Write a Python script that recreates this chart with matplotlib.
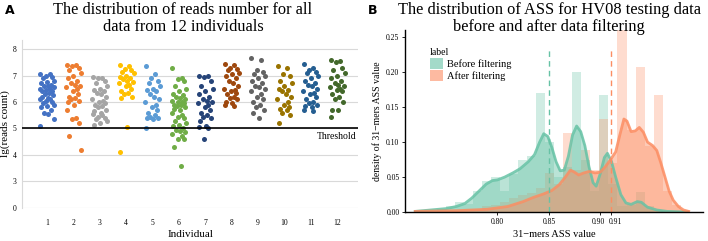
import matplotlib
matplotlib.use('Agg')
import matplotlib.pyplot as plt
from matplotlib.patches import Patch
from matplotlib.transforms import ScaledTranslation
import numpy as np

serif = ['Liberation Serif', 'DejaVu Serif']
plt.rcParams['font.family'] = serif

# ---- panel A data: lg(reads count) per individual ----
individuals = [1, 2, 3, 4, 5, 6, 7, 8, 9, 10, 11, 12]
reads = [
    [7.05, 7.05, 7.0, 6.95, 6.9, 6.8, 6.75, 6.7, 6.65, 6.6, 6.6, 6.55, 6.5, 6.5, 6.45, 6.4, 6.4, 6.35,
     6.3, 6.25, 6.2, 6.15, 6.1, 6.1, 6.05, 6.0, 5.95, 5.9, 5.85, 5.8, 5.7, 5.6, 5.55, 5.35, 5.1],
    [7.4, 7.4, 7.35, 7.3, 7.2, 7.1, 7.0, 6.9, 6.8, 6.7, 6.65, 6.6, 6.55, 6.5, 6.4, 6.3, 6.2, 6.15,
     6.1, 6.05, 6.0, 5.9, 5.7, 5.4, 5.35, 5.2, 4.7, 4.2],
    [6.95, 6.9, 6.9, 6.8, 6.7, 6.6, 6.5, 6.45, 6.4, 6.35, 6.3, 6.2, 6.1, 6.05, 6.0, 5.95, 5.9, 5.85,
     5.8, 5.7, 5.65, 5.6, 5.55, 5.5, 5.45, 5.4, 5.35, 5.3, 5.2, 5.15],
    [7.4, 7.35, 7.25, 7.2, 7.15, 7.1, 7.0, 6.95, 6.9, 6.85, 6.8, 6.75, 6.7, 6.65, 6.6, 6.5, 6.4, 6.35,
     6.3, 6.2, 6.15, 5.05, 4.1],
    [7.35, 7.05, 6.9, 6.8, 6.7, 6.6, 6.5, 6.45, 6.4, 6.3, 6.2, 6.1, 6.0, 5.9, 5.8, 5.7, 5.6, 5.5,
     5.45, 5.4, 5.4, 5.35, 5.0],
    [7.3, 6.9, 6.85, 6.8, 6.6, 6.5, 6.4, 6.3, 6.25, 6.2, 6.15, 6.1, 6.05, 6.0, 6.0, 5.95, 5.9, 5.9,
     5.85, 5.8, 5.75, 5.7, 5.6, 5.5, 5.45, 5.4, 5.3, 5.2, 5.15, 5.1, 5.0, 4.95, 4.9, 4.85, 4.8, 4.7,
     4.6, 4.6, 4.3, 3.6],
    [7.0, 7.0, 6.95, 6.8, 6.6, 6.5, 6.4, 6.3, 6.2, 6.1, 6.05, 6.0, 5.95, 5.9, 5.8, 5.7, 5.6, 5.5,
     5.45, 5.4, 5.3, 5.1, 5.05, 5.0, 4.6],
    [7.45, 7.4, 7.3, 7.25, 7.2, 7.1, 7.05, 7.0, 6.9, 6.8, 6.7, 6.6, 6.5, 6.45, 6.4, 6.35, 6.3, 6.2,
     6.15, 6.1, 6.0, 5.95, 5.9, 5.85],
    [7.65, 7.6, 7.2, 7.15, 7.05, 7.0, 6.9, 6.8, 6.7, 6.6, 6.55, 6.5, 6.4, 6.3, 6.2, 6.1, 6.0, 5.9,
     5.8, 5.7, 5.6, 5.4],
    [7.35, 7.3, 7.05, 7.0, 6.8, 6.7, 6.6, 6.5, 6.45, 6.4, 6.3, 6.2, 6.1, 6.0, 5.9, 5.8, 5.75, 5.7,
     5.6, 5.5, 5.2],
    [7.45, 7.3, 7.2, 7.15, 7.1, 7.0, 6.9, 6.8, 6.7, 6.65, 6.6, 6.5, 6.4, 6.35, 6.3, 6.2, 6.1, 6.0,
     5.95, 5.9, 5.85, 5.8, 5.7, 5.65],
    [7.6, 7.55, 7.5, 7.3, 7.2, 7.1, 7.0, 6.9, 6.8, 6.7, 6.65, 6.6, 6.55, 6.5, 6.45, 6.4, 6.3, 6.2,
     6.1, 6.0, 5.7, 5.7, 5.45],
]
threshold = 5
colors_a = ['#4472C4', '#ED7D31', '#A5A5A5', '#FFC000', '#5B9BD5', '#70AD47',
            '#264478', '#9E480E', '#636363', '#997300', '#255E91', '#43682B']
jitter = [-0.25, 0.1, -0.05, 0.2, -0.15, 0.28, 0.0, -0.22, 0.15, -0.1, 0.05, 0.25,
          -0.28, 0.12, -0.02, 0.18, -0.18, 0.08, -0.08, 0.22, -0.2, 0.03]

# ---- panel B data: ASS value distribution ----
bin_start = 0.7236
bin_width = 0.00878
hist_before = [0.0, 0.002, 0.005, 0.008, 0.015, 0.012, 0.03, 0.045, 0.05, 0.03, 0.055, 0.075,
               0.08, 0.17, 0.10, 0.05, 0.065, 0.20, 0.075, 0.03, 0.168, 0.04, 0.008, 0.01,
               0.028, 0.008, 0.003, 0.0, 0.0, 0.0]
hist_after = [0.002, 0.002, 0.003, 0.003, 0.003, 0.004, 0.005, 0.008, 0.01, 0.015, 0.02, 0.025,
              0.027, 0.035, 0.056, 0.04, 0.113, 0.06, 0.089, 0.06, 0.133, 0.07, 0.26, 0.117,
              0.207, 0.094, 0.168, 0.03, 0.01, 0.003]
kde_before_x = [0.720, 0.735, 0.750, 0.760, 0.768, 0.775, 0.782, 0.789, 0.795, 0.800, 0.807,
                0.815, 0.822, 0.830, 0.836, 0.841, 0.845, 0.849, 0.853, 0.857, 0.861, 0.865,
                0.869, 0.873, 0.877, 0.881, 0.885, 0.889, 0.893, 0.896, 0.900, 0.904, 0.907,
                0.911, 0.915, 0.920, 0.925, 0.930, 0.936, 0.940, 0.946, 0.955, 0.965, 0.985]
kde_before_y = [0.001, 0.003, 0.005, 0.008, 0.012, 0.020, 0.030, 0.040, 0.045, 0.046, 0.050,
                0.056, 0.062, 0.072, 0.082, 0.100, 0.112, 0.108, 0.092, 0.072, 0.059, 0.060,
                0.080, 0.110, 0.123, 0.115, 0.095, 0.065, 0.042, 0.037, 0.055, 0.078, 0.084,
                0.072, 0.050, 0.025, 0.013, 0.011, 0.015, 0.014, 0.007, 0.003, 0.001, 0.000]
kde_after_x = [0.720, 0.760, 0.790, 0.810, 0.825, 0.835, 0.845, 0.853, 0.860, 0.866, 0.871,
               0.875, 0.879, 0.884, 0.889, 0.895, 0.900, 0.905, 0.910, 0.915, 0.919, 0.923,
               0.926, 0.930, 0.934, 0.938, 0.942, 0.946, 0.951, 0.955, 0.959, 0.963, 0.967,
               0.971, 0.976, 0.981, 0.986]
kde_after_y = [0.001, 0.002, 0.004, 0.008, 0.015, 0.021, 0.026, 0.031, 0.039, 0.050, 0.060,
               0.057, 0.053, 0.056, 0.058, 0.056, 0.057, 0.065, 0.075, 0.086, 0.110, 0.133,
               0.130, 0.115, 0.116, 0.121, 0.114, 0.100, 0.095, 0.088, 0.070, 0.050, 0.030,
               0.017, 0.008, 0.003, 0.001]
cut_before = 0.85
cut_after = 0.91
labels_b = ['Before filtering', 'After filtering']
col_before = '#66C2A5'
col_after = '#FC8D62'

fig = plt.figure(figsize=(7.08, 2.41), dpi=100)

# ================= panel A =================
ax1 = fig.add_axes([0.031, 0.137, 0.475, 0.697])
for i, (ind, vals) in enumerate(zip(individuals, reads)):
    xs = [ind + jitter[j % len(jitter)] for j in range(len(vals))]
    ax1.scatter(xs, vals, s=13, color=colors_a[i], linewidths=0, zorder=3)
ax1.axhline(threshold, color='black', lw=1.2, zorder=4)
ax1.text(12.75, threshold - 0.12, 'Threshold', ha='right', va='top', fontsize=7)
ax1.set_xlim(0.05, 12.8)
ax1.set_ylim(2, 8.34)
ax1.set_yticks([2, 3, 4, 5, 6, 7, 8])
ax1.set_yticklabels(['0', '3', '4', '5', '6', '7', '8'])
ax1.set_xticks(individuals)
ax1.tick_params(axis='both', length=0, labelsize=5.5, pad=4)
ax1.tick_params(axis='x', pad=8)
ax1.grid(axis='y', color='#D9D9D9', lw=0.8)
ax1.set_axisbelow(True)
for s in ['top', 'right', 'bottom']:
    ax1.spines[s].set_visible(False)
ax1.spines['left'].set_color('#D9D9D9')
ax1.set_xlabel('Individual', fontsize=8, labelpad=2)
ax1.set_ylabel('lg(reads count)', fontsize=8, labelpad=2)
fig.text(183 / 708, 0.992, 'The distribution of reads number for all\ndata from 12 individuals',
         ha='center', va='top', fontsize=11.8, linespacing=1.05)

# ================= panel B =================
ax2 = fig.add_axes([0.572, 0.120, 0.421, 0.755])
lefts = [bin_start + k * bin_width for k in range(len(hist_before))]
ax2.bar(lefts, hist_before, width=bin_width, align='edge', color=col_before, alpha=0.3, lw=0)
ax2.bar(lefts, hist_after, width=bin_width, align='edge', color=col_after, alpha=0.3, lw=0)
ax2.fill_between(kde_before_x, kde_before_y, color=col_before, alpha=0.45, lw=0)
ax2.fill_between(kde_after_x, kde_after_y, color=col_after, alpha=0.45, lw=0)
ax2.plot(kde_before_x, kde_before_y, color=col_before, lw=2, alpha=0.85)
ax2.plot(kde_after_x, kde_after_y, color=col_after, lw=2, alpha=0.85)
ax2.vlines(cut_before, 0, 0.235, colors=col_before, linestyles=(0, (4, 3)), lw=1)
ax2.vlines(cut_after, 0, 0.235, colors=col_after, linestyles=(0, (4, 3)), lw=1)
ax2.set_xlim(0.71, 1.0)
ax2.set_ylim(0, 0.26)
ax2.set_xticks([0.80, 0.85, 0.90, 0.91])
ax2.set_xticklabels(['0.80', '0.85', '0.90', '0.91'])
ax2.set_yticks([0, 0.05, 0.10, 0.15, 0.20, 0.25])
ax2.set_yticklabels(['0.00', '0.05', '0.10', '0.15', '0.20', '0.25'])
ax2.tick_params(axis='both', length=2, width=0.6, labelsize=5.5, pad=2)
xl = ax2.get_xticklabels()
xl[2].set_transform(xl[2].get_transform() + ScaledTranslation(-0.02, 0, fig.dpi_scale_trans))
xl[3].set_transform(xl[3].get_transform() + ScaledTranslation(0.05, 0, fig.dpi_scale_trans))
for s in ['top', 'right']:
    ax2.spines[s].set_visible(False)
ax2.spines['left'].set_linewidth(1)
ax2.spines['bottom'].set_linewidth(1)
ax2.set_xlabel('31\u2212mers ASS value', fontsize=7.5, labelpad=3)
ax2.set_ylabel('density of 31\u2212mers ASS value', fontsize=7, labelpad=3)
fig.text(549 / 708, 0.992, 'The distribution of ASS for HV08 testing data\nbefore and after data filtering',
         ha='center', va='top', fontsize=11.8, linespacing=1.05)
handles = [Patch(facecolor=col_before, alpha=0.6, edgecolor='none'),
           Patch(facecolor=col_after, alpha=0.6, edgecolor='none')]
leg = ax2.legend(handles, labels_b, title='label', loc='upper left', bbox_to_anchor=(0.06, 0.94),
                 frameon=False, fontsize=7.5, title_fontsize=7, handlelength=1.2, handleheight=1.2,
                 labelspacing=0.1, handletextpad=0.4, borderpad=0.2)
leg._legend_box.align = 'left'

fig.text(0.007, 0.94, 'A', fontsize=9, fontweight='bold', family='DejaVu Sans')
fig.text(0.52, 0.94, 'B', fontsize=9, fontweight='bold', family='DejaVu Sans')

fig.savefig('out.png', dpi=100)
